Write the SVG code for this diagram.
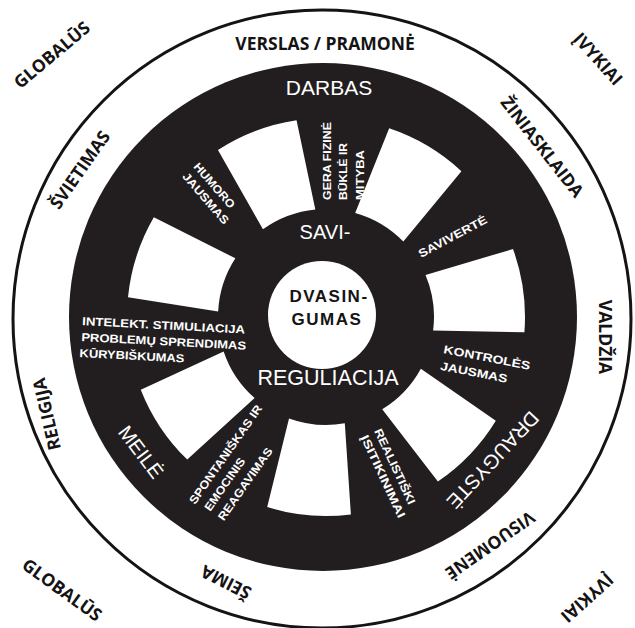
<svg xmlns="http://www.w3.org/2000/svg" xmlns:xlink="http://www.w3.org/1999/xlink" width="635" height="628" viewBox="0 0 635 628">
<style>
.ring{font-family:"Open Sans","Liberation Sans",sans-serif;font-weight:700;font-size:17.5px;fill:#151313;text-anchor:middle}
.big{font-family:"Liberation Sans",Arial,sans-serif;fill:#fff;text-anchor:middle}
.core{font-family:"Liberation Sans",Arial,sans-serif;font-weight:700;font-size:17px;fill:#151313;text-anchor:middle;letter-spacing:1.5px}
.lbl{font-family:"Liberation Sans",Arial,sans-serif;font-weight:700;font-size:11.5px;fill:#fff}
</style>
<defs>
<path id="trap" d="M104.3,-28 L194.5,-42 A199,199 0 0 1 194.5,42 L104.3,28 A108,108 0 0 0 104.3,-28 Z" fill="#fff"/>
</defs>
<rect width="635" height="628" fill="#fff"/>
<g id="outer-ring">
<circle cx="322" cy="319" r="309" fill="none" stroke="#151313" stroke-width="3"/>
</g>
<g id="disc">
<circle cx="323" cy="317" r="254" fill="#221e1f"/>
</g>
<g id="blocks">
<use href="#trap" transform="translate(326,317) rotate(-110.7)"/>
<use href="#trap" transform="translate(326,317) rotate(-59.3)"/>
<use href="#trap" transform="translate(326,317) rotate(-7.8)"/>
<use href="#trap" transform="translate(326,317) rotate(43.6)"/>
<use href="#trap" transform="translate(326,317) rotate(95)"/>
<use href="#trap" transform="translate(326,317) rotate(146.4)"/>
<use href="#trap" transform="translate(326,317) rotate(197.9)"/>
</g>
<g id="core">
<circle cx="322" cy="315" r="54" fill="#fff"/>
<text class="core" x="329" y="302">DVASIN-</text>
<text class="core" x="327" y="325">GUMAS</text>
</g>
<g id="inner-labels">
<text class="big" x="329" y="95" font-size="21">DARBAS</text>
<text class="big" x="325" y="239" font-size="20">SAVI-</text>
<text class="big" x="328" y="385" font-size="21.5">REGULIACIJA</text>
<text class="big" font-size="20" transform="translate(141,452) rotate(53)" y="7">MEILĖ</text>
<text class="big" font-size="20" transform="translate(493,460) rotate(133)" y="7">DRAUGYSTĖ</text>
</g>
<g id="small-labels">
<g transform="translate(193,167) rotate(49)">
<text class="lbl" textLength="56" lengthAdjust="spacingAndGlyphs">HUMORO</text>
<text class="lbl" y="15" textLength="64" lengthAdjust="spacingAndGlyphs">JAUSMAS</text>
</g>
<g transform="translate(331,200) rotate(-90)">
<text class="lbl" textLength="78" lengthAdjust="spacingAndGlyphs">GERA FIZINĖ</text>
<text class="lbl" y="16" textLength="57" lengthAdjust="spacingAndGlyphs">BŪKLĖ IR</text>
<text class="lbl" y="33" textLength="50" lengthAdjust="spacingAndGlyphs">MITYBA</text>
</g>
<text class="lbl" transform="translate(421,258) rotate(-28)" textLength="76" lengthAdjust="spacingAndGlyphs">SAVIVERTĖ</text>
<g transform="translate(443,353) rotate(11)">
<text class="lbl" textLength="88" lengthAdjust="spacingAndGlyphs">KONTROLĖS</text>
<text class="lbl" y="17" textLength="68" lengthAdjust="spacingAndGlyphs">JAUSMAS</text>
</g>
<g transform="translate(374,431) rotate(65)">
<text class="lbl" textLength="82" lengthAdjust="spacingAndGlyphs">REALISTIŠKI</text>
<text class="lbl" y="15" textLength="90" lengthAdjust="spacingAndGlyphs">ĮSITIKINIMAI</text>
</g>
<g transform="translate(195,505) rotate(-55)">
<text class="lbl" textLength="118" lengthAdjust="spacingAndGlyphs">SPONTANIŠKAS IR</text>
<text class="lbl" x="3" y="16.5" textLength="62" lengthAdjust="spacingAndGlyphs">EMOCINIS</text>
<text class="lbl" x="3" y="33" textLength="86" lengthAdjust="spacingAndGlyphs">REAGAVIMAS</text>
</g>
<g transform="translate(82,325) rotate(3)">
<text class="lbl" textLength="163" lengthAdjust="spacingAndGlyphs">INTELEKT. STIMULIACIJA</text>
<text class="lbl" y="16" textLength="165" lengthAdjust="spacingAndGlyphs">PROBLEMŲ SPRENDIMAS</text>
<text class="lbl" x="-1" y="32" textLength="105" lengthAdjust="spacingAndGlyphs">KŪRYBIŠKUMAS</text>
</g>
</g>
<g id="ring-labels">
<text class="ring" transform="translate(325,44)" y="6">VERSLAS / PRAMONĖ</text>
<text class="ring" transform="translate(542,147) rotate(52)" y="6">ŽINIASKLAIDA</text>
<text class="ring" transform="translate(605,337) rotate(90)" y="6">VALDŽIA</text>
<text class="ring" transform="translate(490,545) rotate(145)" y="6">VISUOMENĖ</text>
<text class="ring" transform="translate(226,582) rotate(207)" y="6">ŠEIMA</text>
<text class="ring" transform="translate(47,414) rotate(-103)" y="6">RELIGIJA</text>
<text class="ring" transform="translate(80,170) rotate(-55)" y="6">ŠVIETIMAS</text>
</g>
<g id="corner-labels">
<text class="ring" transform="translate(52,55) rotate(-40)" y="6">GLOBALŪS</text>
<text class="ring" transform="translate(598,59) rotate(48)" y="6">ĮVYKIAI</text>
<text class="ring" transform="translate(587,598) rotate(138)" y="6">ĮVYKIAI</text>
<text class="ring" transform="translate(62,590) rotate(36)" y="6">GLOBALŪS</text>
</g>
</svg>
